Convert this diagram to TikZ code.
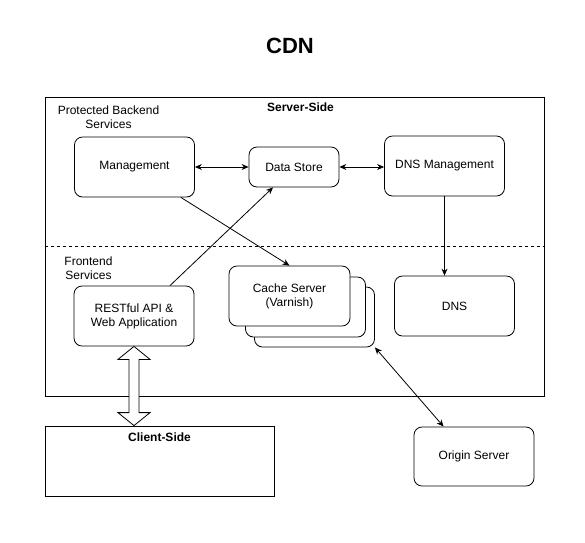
\documentclass[tikz,border=0pt]{standalone}
\usepackage{fontspec}
\setmainfont{Liberation Sans}
\usetikzlibrary{arrows.meta,calc}

\tikzset{
  box/.style={draw, rounded corners=8pt, fill=white, align=center,
    minimum width=120pt, minimum height=60pt, inner sep=2pt},
  region/.style={draw, inner sep=0pt},
  boldlabel/.style={font=\fontsize{12}{14}\selectfont\bfseries},
  conn/.style={{Stealth[length=7pt,width=6pt]}-{Stealth[length=7pt,width=6pt]}},
  link/.style={-{Stealth[length=7pt,width=6pt]}},
  hollow/.style={draw, fill=white, line join=miter},
}

\begin{document}
\begin{tikzpicture}[x=1pt, y=-1pt, font=\fontsize{12}{14}\selectfont, line width=0.8pt]
    \useasboundingbox (0,0) rectangle (585,542);
    \node[font=\fontsize{22}{26}\selectfont\bfseries] (title) at (290,46) {CDN};

    % server side region
    \node[region, minimum width=499pt, minimum height=299pt] (server) at (294.5,246.5) {};
    \draw[dashed] (server.west) -- (server.east);
    \node[boldlabel] (srvlabel) at (300.5,107) {Server-Side};
    \node[align=center] (backlabel) at (108.5,117) {Protected Backend\\Services};
    \node[align=center] (frontlabel) at (88.5,268.5) {Frontend\\Services};

    % backend services
    \node[box] (mgmt) at (134.5,167) {Management};
    \node[box, minimum width=90pt, minimum height=40pt] (ds) at (294,167) {Data Store};
    \node[box] (dnsm) at (444.5,166) {DNS Management};

    % frontend services
    \node[box] (cache3) at (314.5,317) {};
    \node[box] (cache2) at (305.5,307) {};
    \node[box, minimum width=121pt] (cache) at (289.5,296) {Cache Server\\(Varnish)};
    \node[box] (dns) at (454.5,306) {DNS};
    \node[box] (rest) at (134,316) {RESTful API \&\\Web Application};

    % outside
    \node[region, minimum width=229pt, minimum height=70pt] (client) at (159.5,461) {};
    \node[boldlabel] (clientlabel) at (159.5,437) {Client-Side};
    \node[box, minimum height=59pt] (origin) at (474,456.5) {Origin Server};

    % connectors
    \draw[conn] (mgmt) -- (ds);
    \draw[conn] (ds.east) -- (ds.east -| dnsm.west);
    \draw[link] ($(mgmt.south east)+(-14,0)$) -- (cache.north);
    \draw[link] ($(rest.north)+(36,0)$) -- ($(ds.south)+(-21,0)$);
    \draw[link] (dnsm.south) -- (dnsm.south |- dns.north);
    \draw[conn] (cache3.south east) -- ($(origin.north west)+(30,0)$);

    % hollow double arrow to client
    \coordinate (uptip) at (rest.south);
    \coordinate (dntip) at (rest.south |- client.north);
    \draw[hollow] (uptip) -- ++(16,13) -- ++(-11,0) -- ($(dntip)+(5,-13)$) -- ++(11,0)
        -- (dntip) -- ++(-16,-13) -- ++(11,0) -- ($(uptip)+(-5,13)$) -- ++(-11,0) -- cycle;
\end{tikzpicture}
\end{document}
